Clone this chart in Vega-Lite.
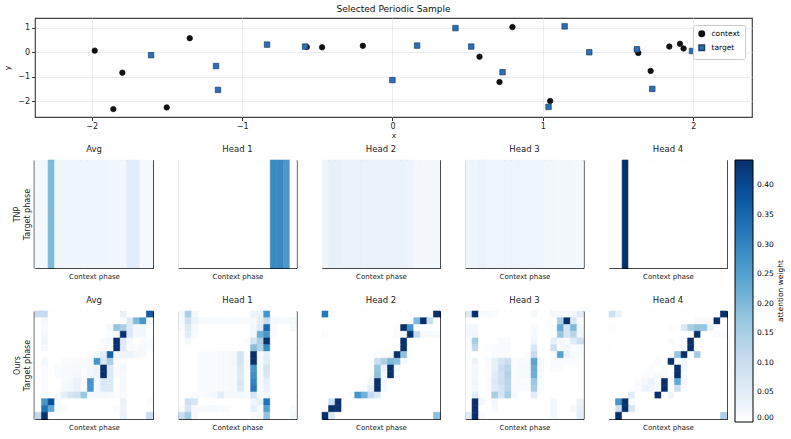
{
  "$schema": "https://vega.github.io/schema/vega-lite/v6.json",
  "background": "white",
  "padding": {"left": 3, "right": 2, "top": 4, "bottom": 2},
  "config": {
    "font": "DejaVu Sans",
    "view": {"stroke": "black", "strokeWidth": 1},
    "axis": {"labelFont": "DejaVu Sans", "titleFont": "DejaVu Sans", "titleFontWeight": "normal", "labelColor": "#222222", "titleColor": "#222222"},
    "header": {"labelFont": "DejaVu Sans", "labelFontSize": 8.5, "labelColor": "#222222"},
    "legend": {"labelFont": "DejaVu Sans", "titleFont": "DejaVu Sans"},
    "title": {"font": "DejaVu Sans"}
  },
  "datasets": {
    "points": [
      {"x": -1.98, "y": 0.065, "set": "context"},
      {"x": -1.856, "y": -2.31, "set": "context"},
      {"x": -1.796, "y": -0.83, "set": "context"},
      {"x": -1.501, "y": -2.24, "set": "context"},
      {"x": -1.348, "y": 0.57, "set": "context"},
      {"x": -0.57, "y": 0.21, "set": "context"},
      {"x": -0.468, "y": 0.2, "set": "context"},
      {"x": -0.197, "y": 0.26, "set": "context"},
      {"x": 0.579, "y": -0.18, "set": "context"},
      {"x": 0.712, "y": -1.21, "set": "context"},
      {"x": 0.798, "y": 1.02, "set": "context"},
      {"x": 1.049, "y": -1.98, "set": "context"},
      {"x": 1.626, "y": 0.1, "set": "context"},
      {"x": 1.635, "y": -0.03, "set": "context"},
      {"x": 1.717, "y": -0.76, "set": "context"},
      {"x": 1.841, "y": 0.23, "set": "context"},
      {"x": 1.912, "y": 0.34, "set": "context"},
      {"x": 1.936, "y": 0.15, "set": "context"},
      {"x": -1.605, "y": -0.12, "set": "target"},
      {"x": -1.173, "y": -0.56, "set": "target"},
      {"x": -1.16, "y": -1.53, "set": "target"},
      {"x": -0.834, "y": 0.31, "set": "target"},
      {"x": -0.581, "y": 0.23, "set": "target"},
      {"x": 0.0, "y": -1.13, "set": "target"},
      {"x": 0.164, "y": 0.27, "set": "target"},
      {"x": 0.419, "y": 0.98, "set": "target"},
      {"x": 0.524, "y": 0.23, "set": "target"},
      {"x": 0.732, "y": -0.81, "set": "target"},
      {"x": 1.038, "y": -2.22, "set": "target"},
      {"x": 1.145, "y": 1.05, "set": "target"},
      {"x": 1.309, "y": 0.0, "set": "target"},
      {"x": 1.626, "y": 0.12, "set": "target"},
      {"x": 1.728, "y": -1.49, "set": "target"},
      {"x": 1.992, "y": 0.05, "set": "target"}
    ],
    "tnp": [
      {"head": "Avg", "row": 0, "ctx": [0,1,2,3,4,5,6,7,8,9,10,11,12,13,14,15,16,17], "w": [0.018,0.02,0.2,0.028,0.028,0.028,0.028,0.028,0.028,0.028,0.028,0.025,0.024,0.022,0.05,0.05,0.016,0.016]},
      {"head": "Head 1", "row": 0, "ctx": [0,1,2,3,4,5,6,7,8,9,10,11,12,13,14,15,16,17], "w": [0,0,0,0,0,0,0,0,0,0,0,0,0,0,0.29,0.29,0.265,0]},
      {"head": "Head 2", "row": 0, "ctx": [0,1,2,3,4,5,6,7,8,9,10,11,12,13,14,15,16,17], "w": [0.028,0.042,0.04,0.036,0.036,0.036,0.036,0.036,0.036,0.036,0.036,0.036,0.036,0.03,0.018,0.018,0.018,0.018]},
      {"head": "Head 3", "row": 0, "ctx": [0,1,2,3,4,5,6,7,8,9,10,11,12,13,14,15,16,17], "w": [0.028,0.03,0.035,0.03,0.03,0.03,0.03,0.03,0.03,0.03,0.03,0.03,0.022,0.022,0.02,0.02,0.02,0.02]},
      {"head": "Head 4", "row": 0, "ctx": [0,1,2,3,4,5,6,7,8,9,10,11,12,13,14,15,16,17], "w": [0,0,0.8,0,0,0,0,0,0,0,0,0,0,0,0,0,0,0]}
    ],
    "ours": [
      {"head": "Avg", "row": 0, "ctx": [0,1,2,3,4,5,6,7,8,9,10,11,12,13,14,15,16,17], "w": [0.11,0.11,0,0,0,0,0,0,0,0,0,0,0,0.04,0,0,0,0.37]},
      {"head": "Avg", "row": 1, "ctx": [0,1,2,3,4,5,6,7,8,9,10,11,12,13,14,15,16,17], "w": [0,0.02,0,0,0,0,0,0,0,0,0,0,0,0.01,0.06,0.2,0.27,0.02]},
      {"head": "Avg", "row": 2, "ctx": [0,1,2,3,4,5,6,7,8,9,10,11,12,13,14,15,16,17], "w": [0,0.015,0,0,0,0,0,0,0,0,0,0.02,0.175,0.15,0.06,0.02,0.02,0]},
      {"head": "Avg", "row": 3, "ctx": [0,1,2,3,4,5,6,7,8,9,10,11,12,13,14,15,16,17], "w": [0,0.02,0,0,0,0,0,0,0,0,0,0.01,0.02,0.6,0.06,0.02,0.02,0]},
      {"head": "Avg", "row": 4, "ctx": [0,1,2,3,4,5,6,7,8,9,10,11,12,13,14,15,16,17], "w": [0,0.03,0,0,0,0,0,0,0,0,0.01,0.02,0.6,0.06,0.015,0,0.01,0.01]},
      {"head": "Avg", "row": 5, "ctx": [0,1,2,3,4,5,6,7,8,9,10,11,12,13,14,15,16,17], "w": [0,0.02,0,0,0,0,0,0,0,0,0,0.01,0.6,0.05,0.01,0.01,0.015,0.01]},
      {"head": "Avg", "row": 6, "ctx": [0,1,2,3,4,5,6,7,8,9,10,11,12,13,14,15,16,17], "w": [0,0,0,0,0,0,0,0,0.01,0.02,0.05,0.36,0.025,0.03,0.03,0.02,0.015,0]},
      {"head": "Avg", "row": 7, "ctx": [0,1,2,3,4,5,6,7,8,9,10,11,12,13,14,15,16,17], "w": [0,0.02,0,0,0.01,0.01,0.01,0.01,0.02,0.27,0.075,0.15,0.01,0.01,0,0,0,0]},
      {"head": "Avg", "row": 8, "ctx": [0,1,2,3,4,5,6,7,8,9,10,11,12,13,14,15,16,17], "w": [0,0.01,0,0.01,0.015,0.015,0.015,0.01,0.02,0.035,0.6,0.06,0.01,0.02,0,0,0,0]},
      {"head": "Avg", "row": 9, "ctx": [0,1,2,3,4,5,6,7,8,9,10,11,12,13,14,15,16,17], "w": [0,0.01,0,0.01,0.015,0.015,0.02,0.01,0.02,0.03,0.6,0.06,0.01,0.015,0,0,0,0]},
      {"head": "Avg", "row": 10, "ctx": [0,1,2,3,4,5,6,7,8,9,10,11,12,13,14,15,16,17], "w": [0,0.01,0,0,0.015,0.02,0.035,0.01,0.27,0.02,0.07,0.06,0,0.015,0,0,0,0]},
      {"head": "Avg", "row": 11, "ctx": [0,1,2,3,4,5,6,7,8,9,10,11,12,13,14,15,16,17], "w": [0,0.01,0,0,0.015,0.02,0.035,0.01,0.27,0.02,0.06,0.06,0,0.015,0,0,0,0]},
      {"head": "Avg", "row": 12, "ctx": [0,1,2,3,4,5,6,7,8,9,10,11,12,13,14,15,16,17], "w": [0,0.01,0,0.015,0.045,0.075,0.09,0.17,0.02,0.02,0.02,0.015,0.01,0.01,0,0,0,0]},
      {"head": "Avg", "row": 13, "ctx": [0,1,2,3,4,5,6,7,8,9,10,11,12,13,14,15,16,17], "w": [0,0.27,0.39,0.015,0,0,0,0,0,0,0,0,0,0.035,0,0,0,0.01]},
      {"head": "Avg", "row": 14, "ctx": [0,1,2,3,4,5,6,7,8,9,10,11,12,13,14,15,16,17], "w": [0,0.33,0.24,0.015,0.01,0,0,0,0,0,0,0,0.01,0.03,0,0,0,0]},
      {"head": "Avg", "row": 15, "ctx": [0,1,2,3,4,5,6,7,8,9,10,11,12,13,14,15,16,17], "w": [0.12,0.6,0,0,0,0,0,0,0,0,0,0,0,0.035,0,0,0,0.1]},

      {"head": "Head 1", "row": 0, "ctx": [0,1,2,3,4,5,6,7,8,9,10,11,12,13,14,15,16,17], "w": [0.02,0.15,0.02,0,0,0,0,0,0,0,0,0.03,0.035,0.27,0,0,0,0]},
      {"head": "Head 1", "row": 1, "ctx": [0,1,2,3,4,5,6,7,8,9,10,11,12,13,14,15,16,17], "w": [0.015,0.09,0.03,0.015,0.015,0.012,0.012,0.012,0.012,0.012,0.012,0.015,0.045,0.11,0.02,0.015,0.015,0.02]},
      {"head": "Head 1", "row": 2, "ctx": [0,1,2,3,4,5,6,7,8,9,10,11,12,13,14,15,16,17], "w": [0.01,0.06,0.015,0,0,0,0,0,0,0,0,0.02,0.055,0.35,0.01,0,0,0.015]},
      {"head": "Head 1", "row": 3, "ctx": [0,1,2,3,4,5,6,7,8,9,10,11,12,13,14,15,16,17], "w": [0,0.05,0.01,0,0,0,0,0,0,0,0,0.02,0.22,0.27,0.01,0,0,0]},
      {"head": "Head 1", "row": 4, "ctx": [0,1,2,3,4,5,6,7,8,9,10,11,12,13,14,15,16,17], "w": [0,0.02,0,0,0,0,0,0,0,0,0.01,0.08,0.15,0.6,0,0,0,0]},
      {"head": "Head 1", "row": 5, "ctx": [0,1,2,3,4,5,6,7,8,9,10,11,12,13,14,15,16,17], "w": [0,0,0,0,0,0,0,0,0,0,0,0.19,0.14,0.29,0,0,0,0]},
      {"head": "Head 1", "row": 6, "ctx": [0,1,2,3,4,5,6,7,8,9,10,11,12,13,14,15,16,17], "w": [0,0,0,0.01,0.01,0.01,0.015,0.015,0.02,0.08,0.01,0.6,0.01,0.04,0,0,0,0]},
      {"head": "Head 1", "row": 7, "ctx": [0,1,2,3,4,5,6,7,8,9,10,11,12,13,14,15,16,17], "w": [0,0,0,0.01,0.01,0.01,0.015,0.015,0.02,0.08,0.01,0.6,0.01,0.05,0,0,0,0]},
      {"head": "Head 1", "row": 8, "ctx": [0,1,2,3,4,5,6,7,8,9,10,11,12,13,14,15,16,17], "w": [0,0,0,0.01,0.01,0.01,0.015,0.015,0.015,0.065,0.01,0.27,0.01,0.075,0,0,0,0]},
      {"head": "Head 1", "row": 9, "ctx": [0,1,2,3,4,5,6,7,8,9,10,11,12,13,14,15,16,17], "w": [0,0,0,0.01,0.01,0.01,0.015,0.015,0.015,0.06,0.01,0.28,0.01,0.065,0,0,0,0]},
      {"head": "Head 1", "row": 10, "ctx": [0,1,2,3,4,5,6,7,8,9,10,11,12,13,14,15,16,17], "w": [0,0,0,0.01,0.01,0.01,0.015,0.015,0.015,0.07,0.01,0.3,0.01,0.04,0,0,0,0]},
      {"head": "Head 1", "row": 11, "ctx": [0,1,2,3,4,5,6,7,8,9,10,11,12,13,14,15,16,17], "w": [0,0,0,0.01,0.01,0.01,0.015,0.015,0.015,0.06,0.01,0.32,0.01,0.04,0,0,0,0]},
      {"head": "Head 1", "row": 12, "ctx": [0,1,2,3,4,5,6,7,8,9,10,11,12,13,14,15,16,17], "w": [0,0,0.01,0.01,0.015,0.02,0.05,0.02,0.02,0.02,0.015,0.075,0.01,0.025,0,0,0,0]},
      {"head": "Head 1", "row": 13, "ctx": [0,1,2,3,4,5,6,7,8,9,10,11,12,13,14,15,16,17], "w": [0,0.095,0.075,0,0,0,0,0,0,0,0,0.025,0.045,0.33,0,0,0,0]},
      {"head": "Head 1", "row": 14, "ctx": [0,1,2,3,4,5,6,7,8,9,10,11,12,13,14,15,16,17], "w": [0.01,0.075,0.015,0.015,0.015,0.015,0.01,0.01,0,0,0,0.04,0.01,0.25,0,0,0,0.01]},
      {"head": "Head 1", "row": 15, "ctx": [0,1,2,3,4,5,6,7,8,9,10,11,12,13,14,15,16,17], "w": [0.1,0.16,0.015,0,0,0,0,0,0,0,0,0.01,0.01,0.18,0,0,0,0.02]},

      {"head": "Head 2", "row": 0, "ctx": [0,1,2,3,4,5,6,7,8,9,10,11,12,13,14,15,16,17], "w": [0.32,0.015,0,0,0,0,0,0,0,0,0,0,0,0,0,0,0,0.6]},
      {"head": "Head 2", "row": 1, "ctx": [0,1,2,3,4,5,6,7,8,9,10,11,12,13,14,15,16,17], "w": [0,0,0,0,0,0,0,0,0,0,0,0,0,0,0.2,0.6,0.1,0]},
      {"head": "Head 2", "row": 2, "ctx": [0,1,2,3,4,5,6,7,8,9,10,11,12,13,14,15,16,17], "w": [0,0,0,0,0,0,0,0,0,0,0,0.008,0.6,0.27,0,0,0,0]},
      {"head": "Head 2", "row": 3, "ctx": [0,1,2,3,4,5,6,7,8,9,10,11,12,13,14,15,16,17], "w": [0.008,0,0,0,0,0,0,0,0,0,0,0.008,0.01,0.6,0.11,0.015,0.015,0.015]},
      {"head": "Head 2", "row": 4, "ctx": [0,1,2,3,4,5,6,7,8,9,10,11,12,13,14,15,16,17], "w": [0,0,0,0,0,0,0,0,0,0,0,0,0.6,0,0,0,0,0]},
      {"head": "Head 2", "row": 5, "ctx": [0,1,2,3,4,5,6,7,8,9,10,11,12,13,14,15,16,17], "w": [0,0,0,0,0,0,0,0,0,0,0,0,0.6,0,0,0,0,0]},
      {"head": "Head 2", "row": 6, "ctx": [0,1,2,3,4,5,6,7,8,9,10,11,12,13,14,15,16,17], "w": [0,0,0,0,0,0,0,0,0.008,0.012,0.012,0.6,0.185,0,0,0,0,0]},
      {"head": "Head 2", "row": 7, "ctx": [0,1,2,3,4,5,6,7,8,9,10,11,12,13,14,15,16,17], "w": [0,0,0,0,0,0,0,0,0.1,0.15,0.2,0.185,0.015,0,0,0,0,0]},
      {"head": "Head 2", "row": 8, "ctx": [0,1,2,3,4,5,6,7,8,9,10,11,12,13,14,15,16,17], "w": [0,0,0,0,0,0,0,0,0.175,0.035,0.6,0.02,0,0,0,0,0,0]},
      {"head": "Head 2", "row": 9, "ctx": [0,1,2,3,4,5,6,7,8,9,10,11,12,13,14,15,16,17], "w": [0,0,0,0,0,0,0,0,0.185,0.02,0.6,0.01,0,0,0,0,0,0]},
      {"head": "Head 2", "row": 10, "ctx": [0,1,2,3,4,5,6,7,8,9,10,11,12,13,14,15,16,17], "w": [0,0,0,0,0,0,0,0.018,0.6,0.02,0,0,0,0,0,0,0,0]},
      {"head": "Head 2", "row": 11, "ctx": [0,1,2,3,4,5,6,7,8,9,10,11,12,13,14,15,16,17], "w": [0,0,0,0,0,0,0.008,0.045,0.6,0.015,0,0,0,0,0,0,0,0]},
      {"head": "Head 2", "row": 12, "ctx": [0,1,2,3,4,5,6,7,8,9,10,11,12,13,14,15,16,17], "w": [0,0,0,0,0.01,0.27,0.215,0.11,0.06,0,0,0,0,0,0,0,0,0]},
      {"head": "Head 2", "row": 13, "ctx": [0,1,2,3,4,5,6,7,8,9,10,11,12,13,14,15,16,17], "w": [0,0.095,0.6,0,0,0,0,0,0,0,0,0,0,0,0,0,0,0]},
      {"head": "Head 2", "row": 14, "ctx": [0,1,2,3,4,5,6,7,8,9,10,11,12,13,14,15,16,17], "w": [0,0.6,0.6,0,0,0,0,0,0,0,0,0,0,0,0,0,0,0]},
      {"head": "Head 2", "row": 15, "ctx": [0,1,2,3,4,5,6,7,8,9,10,11,12,13,14,15,16,17], "w": [0.6,0.065,0,0,0,0,0,0,0,0,0,0,0,0,0,0,0,0.185]},

      {"head": "Head 3", "row": 0, "ctx": [0,1,2,3,4,5,6,7,8,9,10,11,12,13,14,15,16,17], "w": [0.06,0.6,0.012,0.012,0.008,0,0,0,0,0,0.015,0,0,0.02,0.02,0.015,0.02,0.05]},
      {"head": "Head 3", "row": 1, "ctx": [0,1,2,3,4,5,6,7,8,9,10,11,12,13,14,15,16,17], "w": [0,0,0,0,0,0,0,0,0,0,0,0,0,0,0.15,0.6,0.065,0.01]},
      {"head": "Head 3", "row": 2, "ctx": [0,1,2,3,4,5,6,7,8,9,10,11,12,13,14,15,16,17], "w": [0.02,0.02,0,0,0,0,0,0,0,0,0.015,0,0,0.01,0.225,0.075,0.2,0.02]},
      {"head": "Head 3", "row": 3, "ctx": [0,1,2,3,4,5,6,7,8,9,10,11,12,13,14,15,16,17], "w": [0.02,0.025,0,0,0,0,0,0,0,0,0.015,0,0,0.01,0.175,0.075,0.13,0.025]},
      {"head": "Head 3", "row": 4, "ctx": [0,1,2,3,4,5,6,7,8,9,10,11,12,13,14,15,16,17], "w": [0.01,0.16,0,0,0,0.012,0.012,0,0,0,0.025,0,0,0.042,0.018,0.01,0.052,0.095]},
      {"head": "Head 3", "row": 5, "ctx": [0,1,2,3,4,5,6,7,8,9,10,11,12,13,14,15,16,17], "w": [0,0.12,0,0.008,0.01,0.012,0.012,0,0,0,0.07,0,0,0.095,0.01,0.025,0.01,0.01]},
      {"head": "Head 3", "row": 6, "ctx": [0,1,2,3,4,5,6,7,8,9,10,11,12,13,14,15,16,17], "w": [0,0,0,0,0.01,0.01,0.01,0,0,0.01,0.11,0,0,0.01,0.25,0.033,0.015,0.01]},
      {"head": "Head 3", "row": 7, "ctx": [0,1,2,3,4,5,6,7,8,9,10,11,12,13,14,15,16,17], "w": [0,0.033,0,0.012,0.042,0.075,0.1,0.01,0.012,0.012,0.245,0.02,0,0.01,0.01,0.01,0.01,0]},
      {"head": "Head 3", "row": 8, "ctx": [0,1,2,3,4,5,6,7,8,9,10,11,12,13,14,15,16,17], "w": [0,0.018,0,0.01,0.042,0.1,0.13,0.01,0.015,0.015,0.225,0.02,0,0.01,0.01,0,0,0]},
      {"head": "Head 3", "row": 9, "ctx": [0,1,2,3,4,5,6,7,8,9,10,11,12,13,14,15,16,17], "w": [0,0.018,0,0.01,0.052,0.09,0.14,0.01,0.015,0.015,0.22,0.015,0,0,0,0,0,0]},
      {"head": "Head 3", "row": 10, "ctx": [0,1,2,3,4,5,6,7,8,9,10,11,12,13,14,15,16,17], "w": [0,0.025,0,0.01,0.06,0.095,0.13,0.01,0.01,0.01,0.17,0.015,0,0,0,0,0,0]},
      {"head": "Head 3", "row": 11, "ctx": [0,1,2,3,4,5,6,7,8,9,10,11,12,13,14,15,16,17], "w": [0,0.018,0,0.01,0.052,0.075,0.13,0.01,0.01,0.01,0.155,0.01,0,0,0,0,0,0]},
      {"head": "Head 3", "row": 12, "ctx": [0,1,2,3,4,5,6,7,8,9,10,11,12,13,14,15,16,17], "w": [0,0.052,0,0,0.15,0.075,0.15,0.015,0,0,0.052,0,0,0,0,0,0,0]},
      {"head": "Head 3", "row": 13, "ctx": [0,1,2,3,4,5,6,7,8,9,10,11,12,13,14,15,16,17], "w": [0,0.6,0.02,0,0.018,0,0,0,0,0,0,0,0,0.02,0,0,0,0.033]},
      {"head": "Head 3", "row": 14, "ctx": [0,1,2,3,4,5,6,7,8,9,10,11,12,13,14,15,16,17], "w": [0,0.6,0,0,0.015,0,0,0,0,0,0,0,0,0.02,0,0,0.015,0.042]},
      {"head": "Head 3", "row": 15, "ctx": [0,1,2,3,4,5,6,7,8,9,10,11,12,13,14,15,16,17], "w": [0.05,0.6,0.015,0,0,0,0,0,0,0,0,0,0,0.02,0,0,0,0.05]},

      {"head": "Head 4", "row": 0, "ctx": [0,1,2,3,4,5,6,7,8,9,10,11,12,13,14,15,16,17], "w": [0.095,0.033,0,0,0,0,0,0,0,0,0,0,0,0,0,0,0,0.6]},
      {"head": "Head 4", "row": 1, "ctx": [0,1,2,3,4,5,6,7,8,9,10,11,12,13,14,15,16,17], "w": [0,0,0,0,0,0,0,0,0,0,0,0,0,0.015,0.015,0.015,0.6,0]},
      {"head": "Head 4", "row": 2, "ctx": [0,1,2,3,4,5,6,7,8,9,10,11,12,13,14,15,16,17], "w": [0.008,0,0,0,0,0,0,0,0,0.008,0,0.065,0.15,0.175,0.175,0.033,0,0]},
      {"head": "Head 4", "row": 3, "ctx": [0,1,2,3,4,5,6,7,8,9,10,11,12,13,14,15,16,17], "w": [0,0,0,0,0,0,0,0,0,0,0,0,0,0.6,0,0,0.01,0.01]},
      {"head": "Head 4", "row": 4, "ctx": [0,1,2,3,4,5,6,7,8,9,10,11,12,13,14,15,16,17], "w": [0,0,0,0,0,0,0,0,0,0.012,0,0.012,0.6,0,0,0,0,0]},
      {"head": "Head 4", "row": 5, "ctx": [0,1,2,3,4,5,6,7,8,9,10,11,12,13,14,15,16,17], "w": [0,0,0,0,0,0,0,0,0,0,0,0.008,0.6,0,0,0,0,0]},
      {"head": "Head 4", "row": 6, "ctx": [0,1,2,3,4,5,6,7,8,9,10,11,12,13,14,15,16,17], "w": [0,0,0,0,0,0,0,0,0,0,0.175,0.6,0,0.16,0,0,0,0]},
      {"head": "Head 4", "row": 7, "ctx": [0,1,2,3,4,5,6,7,8,9,10,11,12,13,14,15,16,17], "w": [0,0,0,0,0,0,0,0.01,0,0.6,0,0.018,0,0,0,0,0,0]},
      {"head": "Head 4", "row": 8, "ctx": [0,1,2,3,4,5,6,7,8,9,10,11,12,13,14,15,16,17], "w": [0,0,0,0,0,0,0.008,0,0.012,0,0.6,0.018,0,0,0,0,0,0]},
      {"head": "Head 4", "row": 9, "ctx": [0,1,2,3,4,5,6,7,8,9,10,11,12,13,14,15,16,17], "w": [0,0,0,0,0,0.008,0.008,0.012,0.01,0,0.6,0.012,0,0,0,0,0,0]},
      {"head": "Head 4", "row": 10, "ctx": [0,1,2,3,4,5,6,7,8,9,10,11,12,13,14,15,16,17], "w": [0,0,0,0,0.01,0.018,0.033,0.01,0.6,0,0.23,0.015,0,0,0,0,0,0]},
      {"head": "Head 4", "row": 11, "ctx": [0,1,2,3,4,5,6,7,8,9,10,11,12,13,14,15,16,17], "w": [0,0,0,0,0.01,0.033,0.025,0.01,0.6,0,0.095,0.015,0,0,0,0,0,0]},
      {"head": "Head 4", "row": 12, "ctx": [0,1,2,3,4,5,6,7,8,9,10,11,12,13,14,15,16,17], "w": [0,0,0,0.052,0,0,0,0.6,0,0.025,0,0,0,0,0,0,0,0]},
      {"head": "Head 4", "row": 13, "ctx": [0,1,2,3,4,5,6,7,8,9,10,11,12,13,14,15,16,17], "w": [0,0.27,0.6,0.01,0,0,0,0,0,0,0,0,0,0,0,0,0,0]},
      {"head": "Head 4", "row": 14, "ctx": [0,1,2,3,4,5,6,7,8,9,10,11,12,13,14,15,16,17], "w": [0,0.095,0.6,0.075,0,0,0,0,0,0,0,0,0,0,0,0,0,0]},
      {"head": "Head 4", "row": 15, "ctx": [0,1,2,3,4,5,6,7,8,9,10,11,12,13,14,15,16,17], "w": [0,0.6,0,0,0,0,0,0,0,0,0,0,0,0,0,0,0,0.15]}
    ]
  },
  "spacing": 4,
  "vconcat": [
    {
      "width": 717,
      "height": 99,
      "title": {"text": "Selected Periodic Sample", "fontSize": 9, "fontWeight": "normal", "offset": 4, "color": "#111111"},
      "data": {"name": "points"},
      "view": {"stroke": "#444444", "strokeWidth": 1.2},
      "mark": {"type": "point", "filled": true, "size": 30, "strokeWidth": 0.7, "opacity": 1},
      "encoding": {
        "x": {
          "field": "x", "type": "quantitative",
          "scale": {"domain": [-2.377, 2.391], "nice": false, "zero": false},
          "axis": {"values": [-2, -1, 0, 1, 2], "format": "d", "title": "x", "grid": true, "gridColor": "#e3e8ef", "gridWidth": 0.8, "domain": false, "tickSize": 3.5, "tickColor": "#333333", "labelFontSize": 8, "titleFontSize": 7.5, "labelPadding": 2, "titlePadding": 1}
        },
        "y": {
          "field": "y", "type": "quantitative",
          "scale": {"domain": [-2.63, 1.39], "nice": false, "zero": false},
          "axis": {"values": [-2, -1, 0, 1], "format": "d", "title": "y", "grid": true, "gridColor": "#e3e8ef", "gridWidth": 0.8, "domain": false, "tickSize": 3.5, "tickColor": "#333333", "labelFontSize": 8, "titleFontSize": 7.5, "labelPadding": 2, "titlePadding": 6}
        },
        "fill": {
          "field": "set", "type": "nominal",
          "scale": {"domain": ["context", "target"], "range": ["#111111", "#2c6fb4"]},
          "legend": {"title": null, "orient": "top-right", "offset": 7, "padding": 5, "strokeColor": "#cccccc", "fillColor": "white", "cornerRadius": 2, "labelFontSize": 7.5, "symbolSize": 30, "rowPadding": 2, "labelOffset": 6}
        },
        "stroke": {
          "field": "set", "type": "nominal",
          "scale": {"domain": ["context", "target"], "range": ["#111111", "#1c3f68"]}
        },
        "shape": {
          "field": "set", "type": "nominal",
          "scale": {"domain": ["context", "target"], "range": ["circle", "square"]}
        }
      }
    },
    {
      "spacing": 16,
      "vconcat": [
        {
          "data": {"name": "tnp"},
          "transform": [{"flatten": ["w", "ctx"]}],
          "spacing": 23.5,
          "facet": {
            "column": {"field": "head", "type": "nominal", "sort": ["Avg", "Head 1", "Head 2", "Head 3", "Head 4"], "header": {"title": null, "labelPadding": 6}}
          },
          "spec": {
            "width": 118,
            "height": 108,
            "mark": {"type": "rect", "strokeWidth": 0.6},
            "encoding": {
              "x": {"field": "ctx", "type": "ordinal", "scale": {"paddingInner": 0, "paddingOuter": 0}, "axis": {"labels": false, "ticks": false, "domain": false, "title": "Context phase", "titleFontSize": 7, "titlePadding": 3}},
              "y": {"field": "row", "type": "ordinal", "scale": {"paddingInner": 0, "paddingOuter": 0}, "axis": {"labels": false, "ticks": false, "domain": true, "domainColor": "#888888", "domainWidth": 2, "title": ["TNP", "Target phase"], "titleFontSize": 8, "titlePadding": 3}},
              "color": {
                "field": "w", "type": "quantitative",
                "scale": {"type": "linear", "interpolate": "rgb", "domain": [0, 0.055375, 0.11075, 0.166125, 0.2215, 0.276875, 0.33225, 0.387625, 0.443], "range": ["#ffffff", "#deebf7", "#c6dbef", "#9ecae1", "#6baed6", "#4292c6", "#2171b5", "#08519c", "#08306b"], "clamp": true},
                "legend": {"title": "attention weight", "orient": "none", "legendX": 700, "legendY": 142, "direction": "vertical", "gradientLength": 262, "gradientThickness": 18, "gradientStrokeColor": "black", "gradientStrokeWidth": 1, "values": [0, 0.05, 0.1, 0.15, 0.2, 0.25, 0.3, 0.35, 0.4], "format": ".2f", "labelFontSize": 7.5, "labelOffset": 4, "titleOrient": "right", "titleAnchor": "middle", "titleBaseline": "top", "titleFontSize": 7.5, "titleFontWeight": "normal", "titlePadding": 3, "encode": {"title": {"update": {"angle": {"value": 270}, "baseline": {"value": "top"}}}}}
              },
              "stroke": {
                "field": "w", "type": "quantitative",
                "scale": {"type": "linear", "interpolate": "rgb", "domain": [0, 0.055375, 0.11075, 0.166125, 0.2215, 0.276875, 0.33225, 0.387625, 0.443], "range": ["#ffffff", "#deebf7", "#c6dbef", "#9ecae1", "#6baed6", "#4292c6", "#2171b5", "#08519c", "#08306b"], "clamp": true},
                "legend": null
              }
            }
          }
        },
        {
          "data": {"name": "ours"},
          "transform": [{"flatten": ["w", "ctx"]}],
          "spacing": 23.5,
          "facet": {
            "column": {"field": "head", "type": "nominal", "sort": ["Avg", "Head 1", "Head 2", "Head 3", "Head 4"], "header": {"title": null, "labelPadding": 6}}
          },
          "spec": {
            "width": 118,
            "height": 108,
            "mark": {"type": "rect", "strokeWidth": 0.6},
            "encoding": {
              "x": {"field": "ctx", "type": "ordinal", "scale": {"paddingInner": 0, "paddingOuter": 0}, "axis": {"labels": false, "ticks": false, "domain": false, "title": "Context phase", "titleFontSize": 7, "titlePadding": 3}},
              "y": {"field": "row", "type": "ordinal", "scale": {"paddingInner": 0, "paddingOuter": 0}, "axis": {"labels": false, "ticks": false, "domain": true, "domainColor": "#888888", "domainWidth": 2, "title": ["Ours", "Target phase"], "titleFontSize": 8, "titlePadding": 3}},
              "color": {
                "field": "w", "type": "quantitative",
                "scale": {"type": "linear", "interpolate": "rgb", "domain": [0, 0.055375, 0.11075, 0.166125, 0.2215, 0.276875, 0.33225, 0.387625, 0.443], "range": ["#ffffff", "#deebf7", "#c6dbef", "#9ecae1", "#6baed6", "#4292c6", "#2171b5", "#08519c", "#08306b"], "clamp": true},
                "legend": {"title": "attention weight", "orient": "none", "legendX": 700, "legendY": 142, "direction": "vertical", "gradientLength": 262, "gradientThickness": 18, "gradientStrokeColor": "black", "gradientStrokeWidth": 1, "values": [0, 0.05, 0.1, 0.15, 0.2, 0.25, 0.3, 0.35, 0.4], "format": ".2f", "labelFontSize": 7.5, "labelOffset": 4, "titleOrient": "right", "titleAnchor": "middle", "titleBaseline": "top", "titleFontSize": 7.5, "titleFontWeight": "normal", "titlePadding": 3, "encode": {"title": {"update": {"angle": {"value": 270}, "baseline": {"value": "top"}}}}}
              },
              "stroke": {
                "field": "w", "type": "quantitative",
                "scale": {"type": "linear", "interpolate": "rgb", "domain": [0, 0.055375, 0.11075, 0.166125, 0.2215, 0.276875, 0.33225, 0.387625, 0.443], "range": ["#ffffff", "#deebf7", "#c6dbef", "#9ecae1", "#6baed6", "#4292c6", "#2171b5", "#08519c", "#08306b"], "clamp": true},
                "legend": null
              }
            }
          }
        }
      ]
    }
  ],
  "resolve": {"scale": {"stroke": "independent"}, "legend": {"fill": "independent", "stroke": "independent", "shape": "independent"}}
}
